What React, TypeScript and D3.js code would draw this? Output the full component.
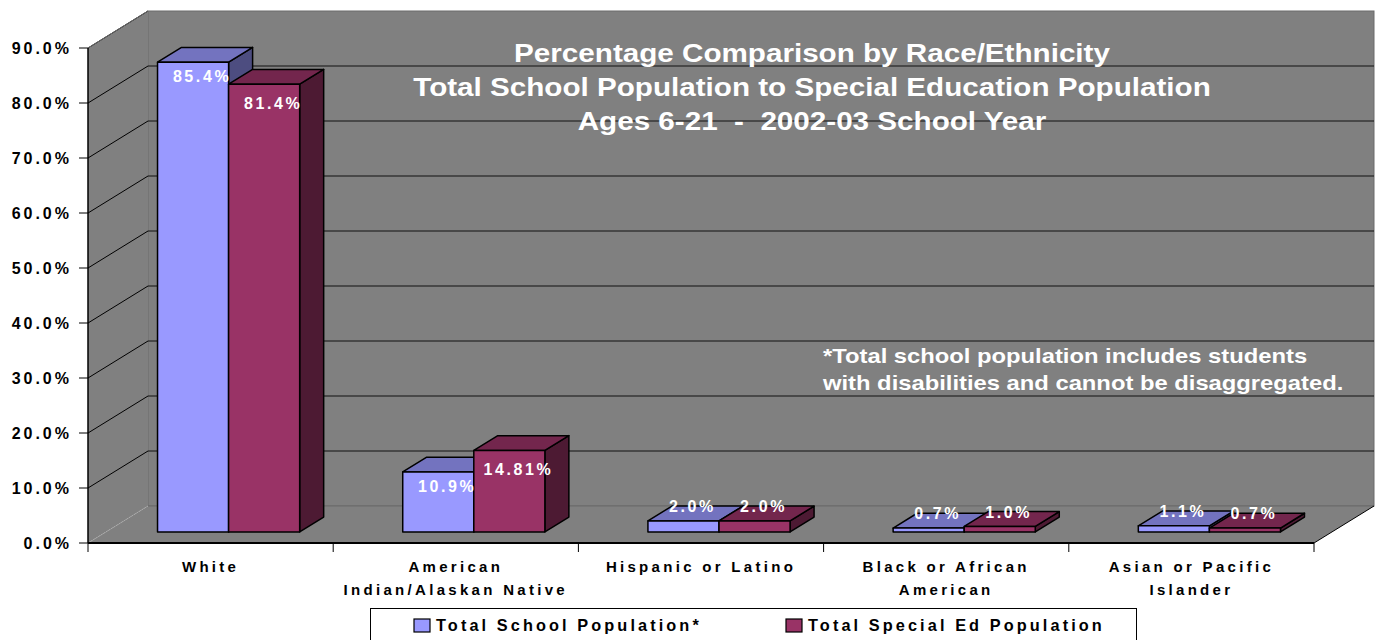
import React from "react";
import * as d3 from "d3";

const categories = [
  ["White"],
  ["American", "Indian/Alaskan Native"],
  ["Hispanic or Latino"],
  ["Black or African", "American"],
  ["Asian or Pacific", "Islander"],
];
const categoryKeys = ["White", "American Indian/Alaskan Native", "Hispanic or Latino", "Black or African American", "Asian or Pacific Islander"];
const seriesNames = ["Total School Population*", "Total Special Ed Population"];
const schoolValues = [85.4, 10.9, 2.0, 0.7, 1.1];
const specialValues = [81.4, 14.81, 2.0, 1.0, 0.7];
const labelsSchool = ["85.4%", "10.9%", "2.0%", "0.7%", "1.1%"];
const labelsSpecial = ["81.4%", "14.81%", "2.0%", "1.0%", "0.7%"];
const yTicks = [0, 10, 20, 30, 40, 50, 60, 70, 80, 90];
const titleLines = [
  "Percentage Comparison by Race/Ethnicity",
  "Total School Population to Special Education Population",
  "Ages 6-21  -  2002-03 School Year",
];
const noteLines = [
  "*Total school population includes students",
  "with disabilities and cannot be disaggregated.",
];

const colors = [
  { front: "#9999FF", top: "#7373BF", side: "#4D4D80" },
  { front: "#993366", top: "#73264D", side: "#4D1A33" },
];

const W = 1381;
const H = 640;
const FX0 = 88;
const FX1 = 1314;
const DX = 60;
const DY = -37;
const WALL = "#808080";
const FONT = "'Liberation Sans', Arial, sans-serif";
const STRETCH = 1.14;

export default function App() {
  const y = d3.scaleLinear().domain([0, 90]).range([543, 48]);
  const x = d3.scaleBand<string>().domain(categoryKeys).range([FX0, FX1]);
  const xs = d3
    .scaleBand<number>()
    .domain([0, 1])
    .range([0, x.bandwidth()])
    .paddingInner(0)
    .paddingOuter(0.725);

  const P = (px: number, py: number, d: number): [number, number] => [px + DX * d, py + DY * d];
  const pts = (arr: [number, number][]) => arr.map((p) => p.join(",")).join(" ");

  const y0 = y(0);
  const yTop = y(90);
  const d0 = 0.3;
  const d1 = 0.7;

  const bars: React.ReactNode[] = [];
  const labels: React.ReactNode[] = [];
  const allValues = [schoolValues, specialValues];
  const allLabels = [labelsSchool, labelsSpecial];
  categoryKeys.forEach((c, i) => {
    [0, 1].forEach((s) => {
      const v = allValues[s][i];
      const xl = (x(c) as number) + (xs(s) as number);
      const xr = xl + xs.bandwidth();
      const yv = y(v);
      const fTL = P(xl, yv, d0);
      const fTR = P(xr, yv, d0);
      const fBR = P(xr, y0, d0);
      const fBL = P(xl, y0, d0);
      const bTL = P(xl, yv, d1);
      const bTR = P(xr, yv, d1);
      const bBR = P(xr, y0, d1);
      const col = colors[s];
      bars.push(
        <g key={`b${i}-${s}`} stroke="#000" strokeWidth={1.5} strokeLinejoin="round">
          <polygon points={pts([fTR, bTR, bBR, fBR])} fill={col.side} />
          <polygon points={pts([fTL, fTR, bTR, bTL])} fill={col.top} />
          <polygon points={pts([fTL, fTR, fBR, fBL])} fill={col.front} />
        </g>
      );
      const h = fBL[1] - fTL[1];
      const cx = (fTL[0] + fTR[0]) / 2 + 9;
      const ly = h > 30 ? fTL[1] + (s === 0 ? 20 : 25) : bTL[1] + 6;
      labels.push(
        <text
          key={`l${i}-${s}`}
          x={cx}
          y={ly}
          textAnchor="middle"
          fill="#fff"
          fontFamily={FONT}
          fontWeight="bold"
          fontSize={16}
          letterSpacing={2.6}
        >
          {allLabels[s][i]}
        </text>
      );
    });
  });

  const backL = FX0 + DX;
  const backR = FX1 + DX;
  const backBottom = y0 + DY;

  return (
    <svg
      width={W}
      height={H}
      style={{ position: "absolute", left: 0, top: 0, background: "#fff" }}
      fontFamily={FONT}
    >
      {/* back wall */}
      <rect x={backL} y={yTop + DY} width={backR - backL} height={backBottom - (yTop + DY)} fill={WALL} stroke="#6a6a6a" strokeWidth={1} />
      {/* side wall */}
      <polygon points={pts([[FX0, yTop], P(FX0, yTop, 1), P(FX0, y0, 1), [FX0, y0]])} fill={WALL} />
      {/* floor */}
      <polygon points={pts([[FX0, y0], [FX1, y0], P(FX1, y0, 1), P(FX0, y0, 1)])} fill={WALL} />
      {/* gridlines */}
      {yTicks.map((t) => {
        const yy = y(t);
        const back = P(FX0, yy, 1);
        return (
          <g key={`g${t}`}>
            {t > 0 && t < 90 && (
              <line x1={back[0]} y1={back[1]} x2={backR} y2={back[1]} stroke="#111" strokeWidth={1} />
            )}
            {t === 0 && (
              <line x1={back[0]} y1={back[1]} x2={backR} y2={back[1]} stroke="#6a6a6a" strokeWidth={1} />
            )}
            <line
              x1={FX0}
              y1={yy}
              x2={back[0]}
              y2={back[1]}
              stroke={t === 0 ? "#aaaaaa" : "#000"}
              strokeWidth={1}
              strokeDasharray={t === 0 ? "2,1" : undefined}
            />
            <line x1={FX0 - 9} y1={yy} x2={FX0} y2={yy} stroke="#000" strokeWidth={1} />
            <text
              x={72}
              y={yy + 6}
              textAnchor="end"
              fontWeight="bold"
              fontSize={16}
              letterSpacing={3}
              fill="#000"
            >
              {`${t.toFixed(1)}%`}
            </text>
          </g>
        );
      })}
      {/* top edge of side wall */}
      <line x1={FX0} y1={yTop} x2={backL} y2={yTop + DY} stroke="#6a6a6a" strokeWidth={1} />
      {/* axes */}
      <line x1={FX0} y1={yTop} x2={FX0} y2={y0} stroke="#000" strokeWidth={1.5} />
      <line x1={FX0} y1={y0} x2={FX1} y2={y0} stroke="#000" strokeWidth={2} />
      <line x1={FX1} y1={y0} x2={backR} y2={backBottom} stroke="#000" strokeWidth={1} />
      {categoryKeys.map((c, i) => (
        <line key={`ct${i}`} x1={x(c) as number} y1={y0} x2={x(c) as number} y2={y0 + 9} stroke="#000" strokeWidth={1} />
      ))}
      <line x1={FX1} y1={y0} x2={FX1} y2={y0 + 9} stroke="#000" strokeWidth={1} />

      {/* title */}
      <g transform={`translate(812,0) scale(${STRETCH},1)`}>
        {titleLines.map((t, i) => (
          <text
            key={`t${i}`}
            x={0}
            y={62 + i * 34}
            textAnchor="middle"
            fill="#fff"
            fontWeight="bold"
            fontSize={26}
            style={{ whiteSpace: "pre" }}
          >
            {t}
          </text>
        ))}
      </g>
      {/* note */}
      <g transform={`translate(823,0) scale(${STRETCH + 0.02},1)`}>
        {noteLines.map((t, i) => (
          <text key={`n${i}`} x={0} y={363 + i * 27} fill="#fff" fontWeight="bold" fontSize={20.5}>
            {t}
          </text>
        ))}
      </g>

      {bars}
      {labels}

      {/* category labels */}
      {categoryKeys.map((c, i) => (
        <text
          key={`cl${i}`}
          x={(x(c) as number) + x.bandwidth() / 2}
          textAnchor="middle"
          fontWeight="bold"
          fontSize={15}
          letterSpacing={3.3}
          fill="#000"
        >
          {categories[i].map((ln, j) => (
            <tspan key={j} x={(x(c) as number) + x.bandwidth() / 2} y={572 + j * 23}>
              {ln}
            </tspan>
          ))}
        </text>
      ))}

      {/* legend */}
      <rect x={370.5} y={608.5} width={766} height={40} fill="#fff" stroke="#000" strokeWidth={1} />
      {seriesNames.map((s, i) => {
        const lx = i === 0 ? 414 : 786;
        return (
          <g key={`lg${i}`}>
            <rect x={lx} y={619} width={16} height={13} fill={colors[i].front} stroke="#000" strokeWidth={1.2} />
            <text x={lx + 22} y={631} fontWeight="bold" fontSize={16.3} letterSpacing={3.1} fill="#000">
              {s}
            </text>
          </g>
        );
      })}
    </svg>
  );
}
